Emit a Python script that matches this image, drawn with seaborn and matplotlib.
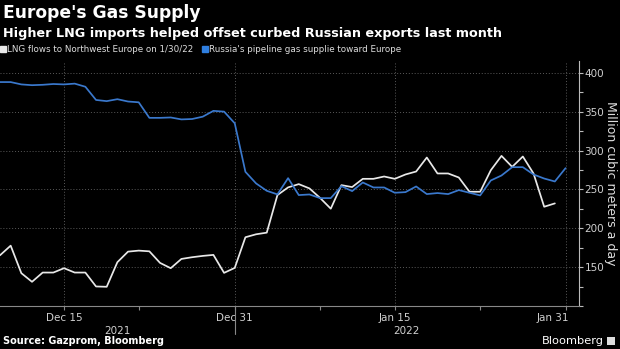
import numpy as np
import pandas as pd
import matplotlib
matplotlib.use("Agg")
import matplotlib.pyplot as plt
import matplotlib.transforms as mtransforms
from matplotlib.lines import Line2D
from matplotlib.patches import Rectangle
import seaborn as sns

# ---------------- data ----------------
lng_label = "LNG flows to Northwest Europe on 1/30/22"
russia_label = "Russia's pipeline gas supplie toward Europe"
start_date = "2021-12-09"

russia_values = [388, 388, 385, 384, 384.5, 385.5, 385, 386, 382, 365, 363.5, 366,
                 363, 362, 342, 342, 342.5, 340, 340.5, 343.5, 351, 350, 335,
                 272.6, 257.7, 248.2, 243.6, 264.5, 242.7, 243.5, 238.8, 238.8, 254.2,
                 247.8, 258.9, 252.5, 252.5, 245.7, 246.5, 253.8, 244.0, 245.3, 244.0,
                 249.1, 245.7, 242.3, 261.5, 267.9, 278.6, 278.6, 269.2, 264.0, 260.2,
                 277.3]
lng_values = [165.3, 177.7, 142.3, 131.2, 143.1, 143.1, 148.7, 143.1, 143.1, 125.2,
              124.8, 156.4, 170.0, 171.3, 170.4, 155.5, 148.7, 160.6, 162.8, 164.5,
              165.8, 142.7, 149.1,
              188.5, 192.3, 194.4, 242.7, 252.6, 256.8, 251.3, 239.0, 225.2, 255.5,
              253.0, 263.6, 263.6, 266.6, 263.6, 269.2, 273.0, 291.0, 270.5, 270.5,
              265.3, 247.0, 247.0, 274.7, 293.1, 279.0, 292.3, 270.5, 227.7, 232.0]

y_ticks = [100, 150, 200, 250, 300, 350, 400]
y_tick_labels = ["", "150", "200", "250", "300", "350", "400"]
x_major_dates = ["2021-12-15", "2021-12-31", "2022-01-15", "2022-01-31"]
x_major_labels = ["Dec 15", "Dec 31", "Jan 15", "Jan 31"]
x_minor_dates = ["2021-12-22", "2022-01-08", "2022-01-23"]
year_labels = ["2021", "2022"]
year_split = "2021-12-31"

title = "Europe's Gas Supply"
subtitle = "Higher LNG imports helped offset curbed Russian exports last month"
y_label = "Million cubic meters a day"
source = "Source: Gazprom, Bloomberg"

# ---------------- frame ----------------
russia_dates = pd.date_range(start_date, periods=len(russia_values), freq="D")
lng_dates = pd.date_range(start_date, periods=len(lng_values), freq="D")
df = pd.concat([
    pd.DataFrame({"date": lng_dates, "value": lng_values, "series": lng_label}),
    pd.DataFrame({"date": russia_dates, "value": russia_values, "series": russia_label}),
], ignore_index=True)

WHITE = "#e8e8e8"
BLUE = "#3a78cc"
BG = "#000000"

sns.set_theme(style="dark", rc={
    "axes.facecolor": BG, "figure.facecolor": BG, "savefig.facecolor": BG,
})
plt.rcParams["font.family"] = ["DejaVu Sans"]

fig = plt.figure(figsize=(6.2, 3.49), dpi=100)
ax = fig.add_axes([0.0, 0.123, 0.934, 0.702])
ax.set_facecolor(BG)

sns.lineplot(data=df, x="date", y="value", hue="series",
             palette={lng_label: WHITE, russia_label: BLUE},
             hue_order=[lng_label, russia_label],
             linewidth=1.25, legend=False, ax=ax)

ax.set_xlim(pd.Timestamp(start_date), pd.Timestamp("2022-02-01 06:30"))
ax.set_ylim(100, 415)

# y axis on the right
ax.yaxis.tick_right()
ax.set_yticks(y_ticks)
ax.set_yticklabels(y_tick_labels)
ax.set_yticks(np.arange(125, 415, 50), minor=True)
ax.tick_params(axis="y", which="both", direction="out", length=3, width=0.8,
               color="#bbbbbb", labelcolor="#d0d0d0", labelsize=7.5, pad=1,
               right=True, left=False)
ax.set_ylabel("")
ax.set_xlabel("")

# x axis
ax.set_xticks(pd.to_datetime(x_major_dates))
ax.set_xticklabels(x_major_labels)
ax.set_xticks(pd.to_datetime(x_minor_dates), minor=True)
ax.tick_params(axis="x", which="both", direction="out", length=3, width=0.8,
               color="#888888", labelcolor="#d0d0d0", labelsize=7.5, pad=2,
               bottom=True)
last = ax.get_xticklabels()[-1]
last.set_transform(last.get_transform() +
                   mtransforms.ScaledTranslation(-13 / 100, 0, fig.dpi_scale_trans))

for s in ["top", "left"]:
    ax.spines[s].set_visible(False)
ax.spines["right"].set_color("#bbbbbb")
ax.spines["right"].set_linewidth(0.8)
ax.spines["bottom"].set_color("#888888")
ax.spines["bottom"].set_linewidth(0.8)

ax.grid(True, which="major", axis="both", color="#5a5a5a",
        linestyle=(0, (1, 2)), linewidth=0.7)

# year labels and separator
trans = mtransforms.blended_transform_factory(ax.transData, ax.transAxes)
x0, x1 = ax.get_xlim()
xs = matplotlib.dates.date2num(pd.Timestamp(year_split))
ax.text((x0 + xs) / 2, -0.1, year_labels[0], transform=trans, ha="center",
        va="center", color="#d0d0d0", fontsize=7.5)
ax.text((xs + x1) / 2, -0.1, year_labels[1], transform=trans, ha="center",
        va="center", color="#d0d0d0", fontsize=7.5)
ax.plot([xs, xs], [0, -0.115], transform=trans, color="#888888", lw=0.8,
        clip_on=False)

# titles
fig.text(0.005, 1 - 4 / 349, title, ha="left", va="top", color="white",
         fontsize=12.3, fontweight="bold")
fig.text(0.005, 1 - 33 / 349, subtitle, ha="left", va="center", color="white",
         fontsize=9.2, fontweight="bold")

handles = [Line2D([], [], marker="s", linestyle="", markersize=4.5, color=WHITE),
           Line2D([], [], marker="s", linestyle="", markersize=4.5, color="#2f7fe0")]
fig.legend(handles, [lng_label, russia_label], loc="center left",
           bbox_to_anchor=(-0.005, 1 - 50 / 349), ncol=2, frameon=False,
           handlelength=0.6, handletextpad=0.2, columnspacing=1.0,
           fontsize=6.3, labelcolor="#dddddd", borderaxespad=0)

fig.text(611 / 620, 0.5 * (0.123 + 0.825), y_label, rotation=270, ha="center",
         va="center", color="#dddddd", fontsize=9)

fig.text(0.005, 1 - 341 / 349, source, ha="left", va="center", color="white",
         fontsize=7, fontweight="bold")
fig.text(604 / 620, 1 - 341 / 349, "Bloomberg", ha="right", va="center",
         color="white", fontsize=8.2)
fig.patches.append(Rectangle((607 / 620, 1 - 345 / 349), 8 / 620, 8 / 349,
                             transform=fig.transFigure, facecolor="#dddddd",
                             edgecolor="none"))

fig.savefig("out.png", dpi=100, facecolor=BG)
